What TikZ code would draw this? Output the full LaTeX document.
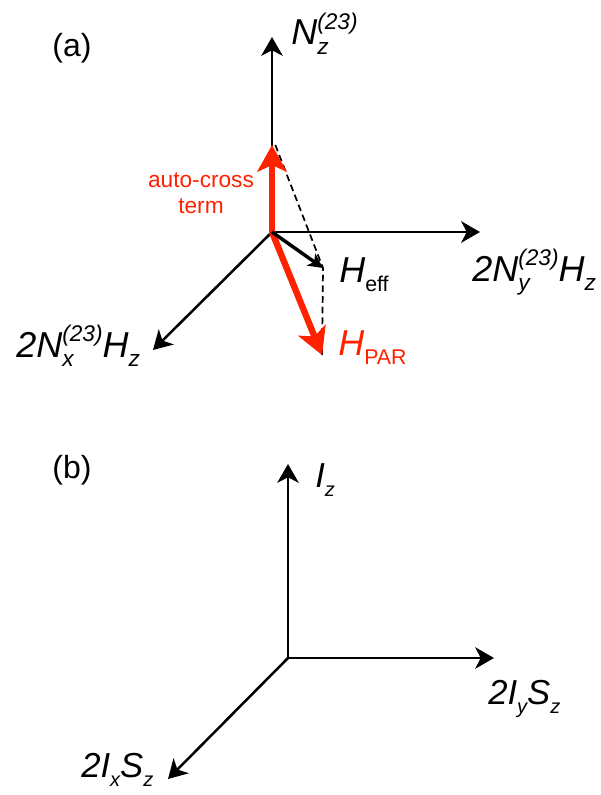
\documentclass[tikz,border=0pt]{standalone}
\usepackage{fontspec}
\setmainfont{Liberation Sans}
\usetikzlibrary{arrows.meta, positioning}
\definecolor{cred}{HTML}{FF2200}
% superscript and subscript stacked after a letter
\newcommand{\supsub}[3][15]{{\fontsize{#1}{#1}\selectfont
  \setbox0=\hbox{\raisebox{11.5pt}{#2}}\setbox2=\hbox{\raisebox{-7pt}{#3}}%
  \ifdim\wd0<\wd2 \wd0=\wd2\fi\rlap{\box2}\box0}}
\tikzset{
  every picture/.style={x=0.75pt, y=-0.75pt, line width=1.9pt},
  axis/.style={-{Stealth[length=14pt, width=16pt, inset=4pt]}, draw=black},
  vec/.style={-{Stealth[length=20pt, width=22pt, inset=5pt]}, draw=cred, line width=4.8pt},
  eff/.style={-{Stealth[length=11pt, width=11pt, inset=3pt]}, draw=black, line width=2.6pt},
  guide/.style={dash pattern=on 5pt off 3pt, line width=1.3pt},
  big/.style={font=\fontsize{27}{30}\selectfont\itshape, inner sep=0pt},
  mid/.style={font=\fontsize{26}{30}\selectfont\itshape, inner sep=0pt},
  tag/.style={font=\fontsize{24}{28}\selectfont, inner sep=0pt},
}

\begin{document}
\begin{tikzpicture}
  \useasboundingbox (0,0) rectangle (600,795);
  % (a)
  \coordinate (oa) at (272,232);
  \coordinate (za) at (272,37);
  \coordinate (ya) at (480,232);
  \coordinate (xa) at (153,350);
  \coordinate (ac) at (272,145);
  \coordinate (ef) at (323,268);
  \coordinate (pa) at (322,355);
  \node[tag] (tA) at (72,48) {(a)};
  \draw[axis] (oa) -- (za);
  \draw[axis] (oa) -- (ya);
  \draw[axis] (oa) -- (xa);
  \draw[guide] ([xshift=2.5pt]ac) -- (ef) -- (pa);
  \draw[vec] (oa) -- (ac);
  \draw[vec] (oa) -- (pa);
  \draw[eff] (oa) -- (ef);
  \node[big, anchor=base west] (lNz) at (290,45) {N\supsub[17]{(23)}{z}};
  \node[big, anchor=base west] (lNy) at (471,281) {2N\supsub[17]{(23)}{y}H\supsub[17]{}{z}};
  \node[big, anchor=base west] (lNx) at (15,357) {2N\supsub[17]{(23)}{x}H\supsub[17]{}{z}};
  \node[big, anchor=base west] (lEf) at (338,282) {H\supsub[16]{}{\upshape eff}};
  \node[big, anchor=base west, text=cred] (lPa) at (337,355) {H\supsub[16]{}{\upshape PAR}};
  \node[text=cred, align=center, inner sep=0pt, font=\fontsize{17}{19.5}\selectfont] (lAc) at (201,193) {auto-cross\\term};
  % (b)
  \coordinate (ob) at (288,658);
  \coordinate (zb) at (288,464);
  \coordinate (yb) at (494,658);
  \coordinate (xb) at (168,779);
  \node[tag] (tB) at (72,470) {(b)};
  \draw[axis] (ob) -- (zb);
  \draw[axis] (ob) -- (yb);
  \draw[axis] (ob) -- (xb);
  \node[mid, anchor=base west] (lIz) at (314,487) {I\supsub{}{z}};
  \node[mid, anchor=base west] (lIy) at (487,704) {2I\supsub{}{y}S\supsub{}{z}};
  \node[mid, anchor=base west] (lIx) at (80,777) {2I\supsub{}{x}S\supsub{}{z}};
\end{tikzpicture}
\end{document}
